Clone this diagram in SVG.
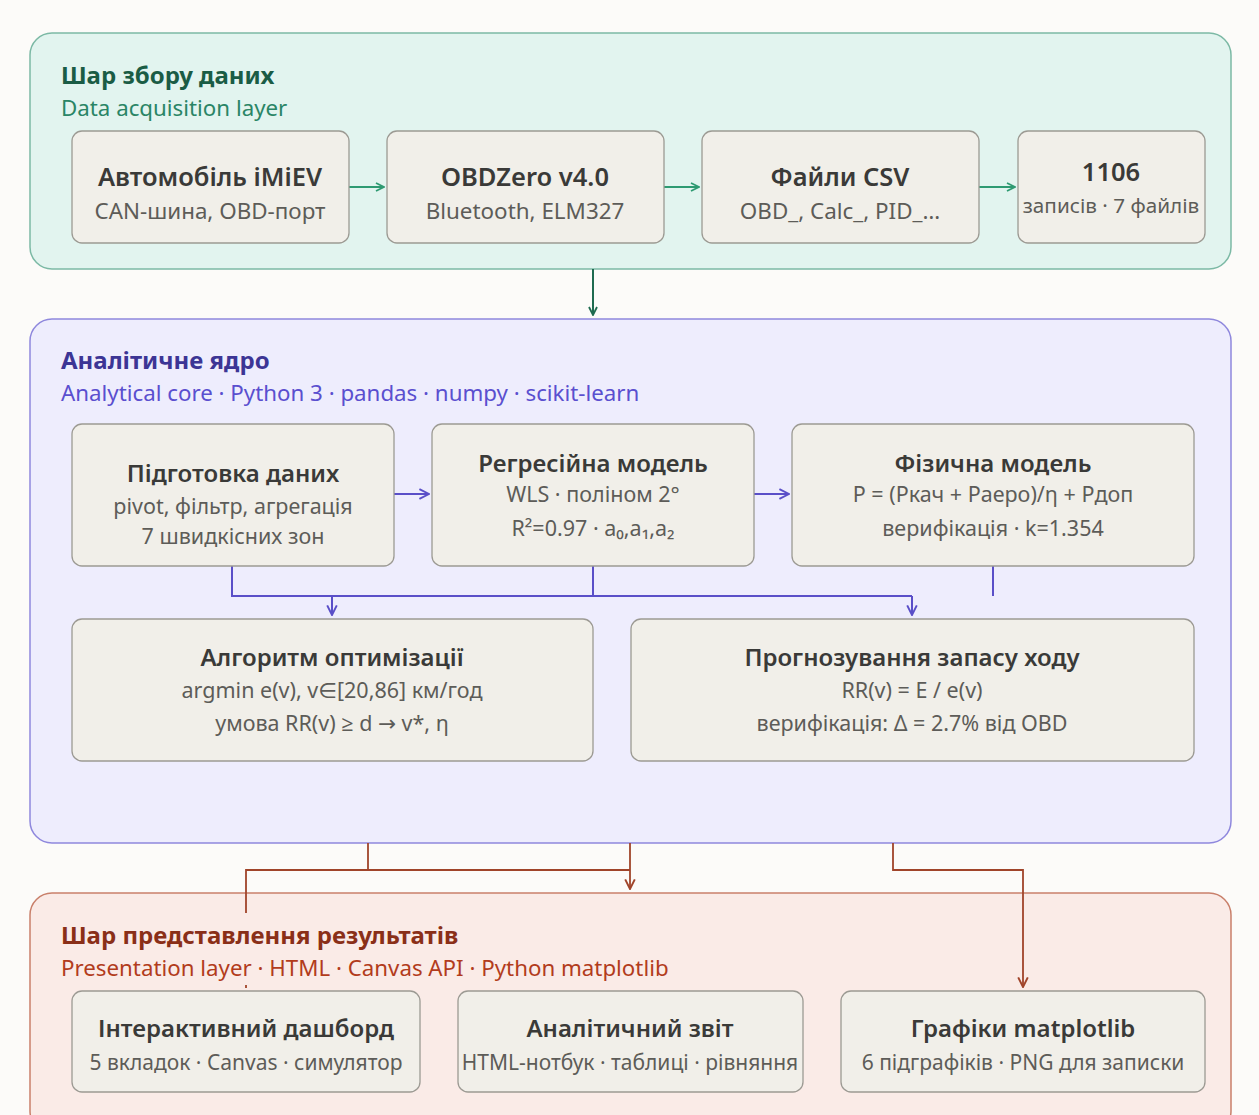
<svg xmlns="http://www.w3.org/2000/svg" width="1259" height="1115" viewBox="0 0 1259 1115">
  <defs>
    <style>
      .node rect { fill: #f1efe9; stroke: #9c9a93; stroke-width: 1.3; }
      .nt { font-family: "Noto Sans", "Open Sans", sans-serif; font-size: 24px; font-weight: 600; fill: #3a3a38; text-anchor: middle; }
      .ns { font-family: "Noto Sans", "Open Sans", sans-serif; font-size: 21.5px; fill: #5d5c58; text-anchor: middle; }
      .top .nt { font-size: 25.5px; }
      .top .ns { font-size: 22.4px; }
      .bot .ns { font-size: 21px; }
      .sym { font-family: "DejaVu Sans", sans-serif; }
      .lt { font-family: "Noto Sans", "Open Sans", sans-serif; font-size: 24px; font-weight: 700; }
      .ls { font-family: "Noto Sans", "Open Sans", sans-serif; font-size: 22.3px; }
      .g { stroke: #2e9a72; stroke-width: 2; fill: none; }
      .gd { stroke: #1f6b50; stroke-width: 2; fill: none; }
      .p { stroke: #5a4fc8; stroke-width: 2; fill: none; }
      .r { stroke: #a0442a; stroke-width: 1.8; fill: none; }
    </style>
    <marker id="ag" viewBox="0 0 10 10" refX="9" refY="5" markerWidth="10" markerHeight="10" markerUnits="userSpaceOnUse" orient="auto">
      <path d="M1,1 L9,5 L1,9" fill="none" stroke="#2e9a72" stroke-width="1.8"/>
    </marker>
    <marker id="agd" viewBox="0 0 10 10" refX="9" refY="5" markerWidth="10" markerHeight="10" markerUnits="userSpaceOnUse" orient="auto">
      <path d="M1,1 L9,5 L1,9" fill="none" stroke="#1f6b50" stroke-width="1.8"/>
    </marker>
    <marker id="ap" viewBox="0 0 10 10" refX="9" refY="5" markerWidth="12" markerHeight="12" markerUnits="userSpaceOnUse" orient="auto">
      <path d="M1,1 L9,5 L1,9" fill="none" stroke="#5a4fc8" stroke-width="1.6"/>
    </marker>
    <marker id="ar" viewBox="0 0 10 10" refX="9" refY="5" markerWidth="12" markerHeight="12" markerUnits="userSpaceOnUse" orient="auto">
      <path d="M1,1 L9,5 L1,9" fill="none" stroke="#a0442a" stroke-width="1.6"/>
    </marker>
  </defs>

  <rect x="0" y="0" width="1259" height="1115" fill="#fcfbf9"/>

  <!-- Layer containers -->
  <g id="layer-acquisition">
    <rect x="30" y="33" width="1201" height="236" rx="22" fill="#e2f4ef" stroke="#7cb9a5" stroke-width="1.5"/>
    <text x="61" y="84" class="lt" fill="#1a5c45">Шар збору даних</text>
    <text x="61" y="116" class="ls" fill="#2a8566">Data acquisition layer</text>
  </g>
  <g id="layer-core">
    <rect x="30" y="319" width="1201" height="524" rx="22" fill="#eeedfd" stroke="#8f88dd" stroke-width="1.5"/>
    <text x="61" y="369" class="lt" fill="#3c3595">Аналітичне ядро</text>
    <text x="61" y="401" class="ls" fill="#5a4fcf">Analytical core · Python 3 · pandas · numpy · scikit-learn</text>
  </g>
  <g id="layer-presentation">
    <rect x="30" y="893" width="1201" height="240" rx="22" fill="#faebe7" stroke="#c9806b" stroke-width="1.5"/>
    <text x="61" y="944" class="lt" fill="#8a2f18">Шар представлення результатів</text>
    <text x="61" y="976" class="ls" fill="#b23c1c">Presentation layer · HTML · Canvas API · Python matplotlib</text>
  </g>

  <!-- Connectors -->
  <g id="connectors">
    <line x1="349" y1="187" x2="384" y2="187" class="g" marker-end="url(#ag)"/>
    <line x1="664" y1="187" x2="699" y2="187" class="g" marker-end="url(#ag)"/>
    <line x1="979" y1="187" x2="1015" y2="187" class="g" marker-end="url(#ag)"/>
    <line x1="593" y1="269" x2="593" y2="315" class="gd" marker-end="url(#agd)"/>

    <line x1="394" y1="494" x2="429" y2="494" class="p" marker-end="url(#ap)"/>
    <line x1="754" y1="494" x2="789" y2="494" class="p" marker-end="url(#ap)"/>
    <polyline points="232,566 232,596 912,596" class="p"/>
    <line x1="593" y1="566" x2="593" y2="596" class="p"/>
    <line x1="993" y1="566" x2="993" y2="596" class="p"/>
    <line x1="332" y1="596" x2="332" y2="615" class="p" marker-end="url(#ap)"/>
    <line x1="912" y1="596" x2="912" y2="615" class="p" marker-end="url(#ap)"/>

    <polyline points="368,843 368,870" class="r"/>
    <polyline points="246,913 246,870 630,870" class="r"/>
    <line x1="246" y1="985" x2="246" y2="988" class="r"/>
    <line x1="630" y1="843" x2="630" y2="889" class="r" marker-end="url(#ar)"/>
    <polyline points="893,843 893,870 1023,870 1023,987" class="r" marker-end="url(#ar)"/>
  </g>

  <!-- Acquisition nodes -->
  <g class="top">
    <g id="n-car" class="node">
      <rect x="72" y="131" width="277" height="112" rx="10"/>
      <text x="210" y="186" class="nt">Автомобіль iMiEV</text>
      <text x="210" y="219" class="ns">CAN-шина, OBD-порт</text>
    </g>
    <g id="n-obdzero" class="node">
      <rect x="387" y="131" width="277" height="112" rx="10"/>
      <text x="525" y="186" class="nt">OBDZero v4.0</text>
      <text x="525" y="219" class="ns">Bluetooth, ELM327</text>
    </g>
    <g id="n-csv" class="node">
      <rect x="702" y="131" width="277" height="112" rx="10"/>
      <text x="840" y="186" class="nt">Файли CSV</text>
      <text x="840" y="219" class="ns">OBD_, Calc_, PID_…</text>
    </g>
    <g id="n-records" class="node">
      <rect x="1018" y="131" width="187" height="112" rx="10"/>
      <text x="1111" y="181" class="nt">1106</text>
      <text x="1111" y="213" class="ns" style="font-size:20.7px">записів · 7 файлів</text>
    </g>
  </g>

  <!-- Analytical core nodes -->
  <g id="n-prep" class="node">
    <rect x="72" y="424" width="322" height="142" rx="10"/>
    <text x="233" y="482" class="nt">Підготовка даних</text>
    <text x="233" y="514" class="ns">pivot, фільтр, агрегація</text>
    <text x="233" y="544" class="ns">7 швидкісних зон</text>
  </g>
  <g id="n-regression" class="node">
    <rect x="432" y="424" width="322" height="142" rx="10"/>
    <text x="593" y="472" class="nt">Регресійна модель</text>
    <text x="593" y="502" class="ns">WLS · поліном 2°</text>
    <text x="593" y="536" class="ns">R²=0.97 · a₀,a₁,a₂</text>
  </g>
  <g id="n-physics" class="node">
    <rect x="792" y="424" width="402" height="142" rx="10"/>
    <text x="993" y="472" class="nt">Фізична модель</text>
    <text x="993" y="502" class="ns">P = (Pкач + Pаеро)/η + Pдоп</text>
    <text x="993" y="536" class="ns">верифікація · k=1.354</text>
  </g>
  <g id="n-optimize" class="node">
    <rect x="72" y="619" width="521" height="142" rx="10"/>
    <text x="332" y="666" class="nt">Алгоритм оптимізації</text>
    <text x="332" y="698" class="ns">argmin e(v), v<tspan class="sym">∈</tspan>[20,86] км/год</text>
    <text x="332" y="731" class="ns">умова RR(v) ≥ d <tspan class="sym">→</tspan> v*, η</text>
  </g>
  <g id="n-range" class="node">
    <rect x="631" y="619" width="563" height="142" rx="10"/>
    <text x="912" y="666" class="nt">Прогнозування запасу ходу</text>
    <text x="912" y="698" class="ns">RR(v) = E / e(v)</text>
    <text x="912" y="731" class="ns">верифікація: Δ = 2.7% від OBD</text>
  </g>

  <!-- Presentation nodes -->
  <g class="bot">
    <g id="n-dashboard" class="node">
      <rect x="72" y="991" width="348" height="101" rx="10"/>
      <text x="246" y="1037" class="nt">Інтерактивний дашборд</text>
      <text x="246" y="1070" class="ns">5 вкладок · Canvas · симулятор</text>
    </g>
    <g id="n-report" class="node">
      <rect x="458" y="991" width="345" height="101" rx="10"/>
      <text x="630" y="1037" class="nt">Аналітичний звіт</text>
      <text x="630" y="1070" class="ns">HTML-нотбук · таблиці · рівняння</text>
    </g>
    <g id="n-plots" class="node">
      <rect x="841" y="991" width="364" height="101" rx="10"/>
      <text x="1023" y="1037" class="nt">Графіки matplotlib</text>
      <text x="1023" y="1070" class="ns">6 підграфіків · PNG для записки</text>
    </g>
  </g>
</svg>
